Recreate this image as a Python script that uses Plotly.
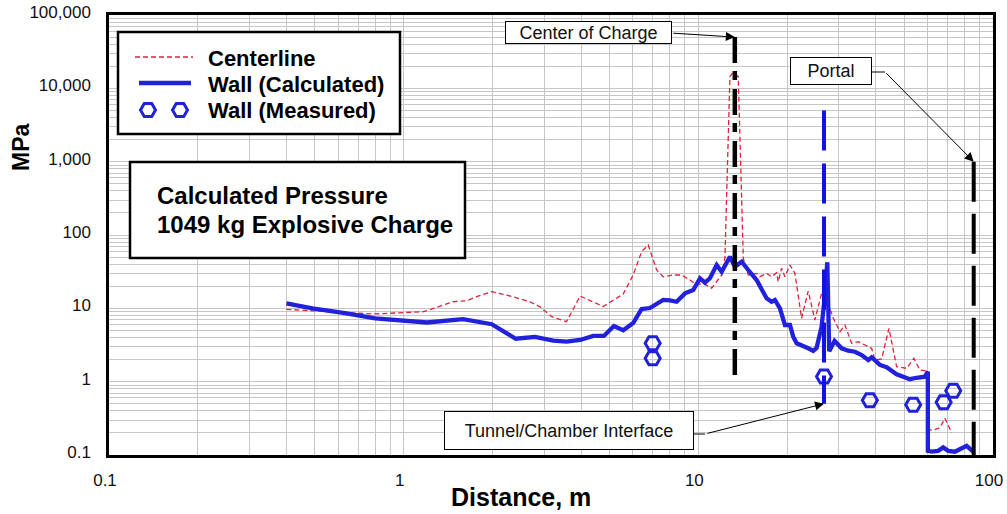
import math
import plotly.graph_objects as go

# ---- data: distance (m) vs pressure (MPa) ----
wall_calc_x = [0.40, 0.49, 0.64, 0.80, 1.20, 1.59, 1.99, 2.40, 2.79, 3.22, 3.57, 3.97, 4.40, 4.78,
               5.17, 5.56, 6.01, 6.42, 6.85, 7.60, 8.01, 8.44, 9.01, 9.61, 10.13, 10.53, 10.95,
               11.54, 12.00, 12.80, 13.31, 14.03, 14.77, 15.77, 17.05, 17.73, 18.20, 18.92, 19.67,
               20.46, 20.99, 21.56, 23.60, 24.54, 25.20, 26.20, 26.68, 27.40, 27.81, 29.00, 30.63,
               32.27, 34.00, 35.83, 37.73, 38.73, 41.33, 43.55, 47.09, 50.23, 52.24, 55.05, 58.74,
               60.10, 60.10, 61.89, 65.16, 67.76, 70.47, 74.25, 78.23, 81.35, 85.66]
wall_calc_y = [11.7, 10.0, 8.56, 7.31, 6.41, 7.11, 6.08, 3.85, 4.07, 3.62, 3.51, 3.70, 4.20, 4.20,
               5.74, 5.02, 6.31, 9.79, 10.1, 13.0, 12.8, 12.3, 16.0, 17.8, 25.7, 22.4, 25.7,
               39.0, 31.6, 50.6, 37.0, 43.3, 33.3, 24.3, 13.7, 12.3, 13.0, 10.0, 5.93,
               5.93, 4.11, 3.34, 2.85, 2.62, 2.90, 5.62, 11.1, 42.5, 2.60, 3.60, 2.85,
               2.64, 2.56, 2.31, 1.97, 2.15, 1.69, 1.57, 1.26, 1.17, 1.08, 1.13, 1.17,
               1.37, 0.114, 0.111, 0.114, 0.127, 0.114, 0.111, 0.123, 0.133, 0.111]

centerline_x = [0.40, 0.49, 0.64, 0.80, 0.90, 1.17, 1.47, 1.64, 1.79, 1.99, 2.35, 2.68, 2.90, 3.18,
                3.57, 3.97, 4.76, 5.56, 6.01, 6.42, 6.76, 7.22, 7.60, 8.22, 8.78, 9.37, 9.87, 10.39,
                11.10, 11.54, 12.00, 12.31, 12.80, 13.07, 13.66, 14.21, 14.77, 15.77, 16.18, 17.05,
                17.73, 18.44, 18.67, 19.17, 19.67, 20.46, 21.27, 22.41, 23.60, 24.86, 26.20, 27.25,
                28.69, 30.23, 31.44, 33.13, 34.88, 36.76, 38.73, 39.74, 41.88, 44.35, 47.09, 50.90,
                53.89, 56.47, 59.66, 60.10, 62.68, 66.04, 68.68, 72.36]
centerline_y = [9.70, 9.20, 8.72, 8.38, 8.56, 9.00, 12.3, 12.7, 14.7, 16.9, 14.4, 12.3, 10.5, 7.69,
                6.57, 14.7, 10.6, 15.7, 28.5, 59.2, 73.1, 33.3, 27.0, 28.5, 28.5, 24.3, 20.8, 21.9,
                18.8, 23.1, 28.5, 48.6, 14400, 16300, 14400, 48.1, 28.5, 30.0, 27.0, 30.0,
                27.0, 30.6, 23.1, 35.2, 27.0, 39.0, 30.0, 7.31, 17.2, 6.93, 16.0, 13.0,
                7.4, 4.80, 5.93, 3.34, 3.51, 3.16, 2.85, 1.97, 2.04, 5.34, 1.60, 1.52,
                2.08, 1.44, 1.40, 0.22, 0.219, 0.236, 0.317, 0.201]

measured_x = [7.0, 7.0, 26.7, 38.2, 53.6, 68.0, 73.3]
measured_y = [3.34, 2.08, 1.18, 0.56, 0.485, 0.525, 0.753]

# reference locations along the tunnel
charge_x, charge_y = [13.3, 13.3], [50000, 1.2]
interface_x, interface_y = [26.7, 26.7], [5000, 0.5]
portal_x, portal_y = [86.0, 86.0], [1000, 0.1]

x_tick_labels = ["0.1", "1", "10", "100"]
y_tick_labels = ["0.1", "1", "10", "100", "1,000", "10,000", "100,000"]

# ---- figure geometry (pixels) ----
W, H = 1007, 514
L, R, T, B = 109, 993, 15, 455
FONT = "Liberation Sans, Arial, sans-serif"
BLUE = "#2121dc"
RED = "#e0203c"


def fx(px):
    return (px - L) / (R - L)


def fy(py):
    return (B - py) / (B - T)


def log_grid(first_exp, last_exp, labels):
    vals, texts = [], []
    for i, e in enumerate(range(first_exp, last_exp)):
        for m in range(1, 10):
            vals.append(m * 10.0 ** e)
            texts.append(labels[i] if m == 1 else "")
    vals.append(10.0 ** last_exp)
    texts.append(labels[-1])
    return vals, texts


xv, xt = log_grid(-1, 2, x_tick_labels)
yv, yt = log_grid(-1, 5, y_tick_labels)

fig = go.Figure()

fig.add_trace(go.Scatter(x=centerline_x, y=centerline_y, mode="lines",
                         line=dict(color=RED, width=1.3, dash="5px,3px"), showlegend=False))
fig.add_trace(go.Scatter(x=wall_calc_x, y=wall_calc_y, mode="lines",
                         line=dict(color=BLUE, width=4.3), showlegend=False))
fig.add_trace(go.Scatter(x=measured_x, y=measured_y, mode="markers",
                         marker=dict(symbol="hexagon2-open", size=15, color=BLUE,
                                     line=dict(width=3, color=BLUE)), showlegend=False))
fig.add_trace(go.Scatter(x=charge_x, y=charge_y, mode="lines",
                         line=dict(color="black", width=4.5, dash="26px,8px,9px,9px"),
                         showlegend=False))
fig.add_trace(go.Scatter(x=interface_x, y=interface_y, mode="lines",
                         line=dict(color="#1212e6", width=4, dash="40px,13px"), showlegend=False))
fig.add_trace(go.Scatter(x=portal_x, y=portal_y, mode="lines",
                         line=dict(color="black", width=4, dash="40px,12px"), showlegend=False))

axis_common = dict(type="log", showgrid=True, gridcolor="#c6c6c6", gridwidth=1,
                   showline=True, linecolor="black", linewidth=2.5, mirror=True,
                   ticks="", zeroline=False, automargin=False,
                   tickfont=dict(family=FONT, size=17, color="#111"))
fig.update_xaxes(range=[-1, 2], tickmode="array", tickvals=xv, ticktext=xt,
                 ticklabelstandoff=8, ticklabelshift=-4, **axis_common)
fig.update_yaxes(range=[-1, 5], tickmode="array", tickvals=yv, ticktext=yt,
                 ticklabelstandoff=12, ticklabelshift=-3, **axis_common)

shapes = []
# legend frame and title frame
shapes.append(dict(type="rect", xref="paper", yref="paper", x0=fx(118), x1=fx(400),
                   y0=fy(134), y1=fy(32), line=dict(color="black", width=2.5),
                   fillcolor="white", layer="above"))
shapes.append(dict(type="rect", xref="paper", yref="paper", x0=fx(130), x1=fx(465),
                   y0=fy(258), y1=fy(162), line=dict(color="black", width=2.5),
                   fillcolor="white", layer="above"))
# legend samples
shapes.append(dict(type="line", xref="paper", yref="paper", x0=fx(135), x1=fx(193),
                   y0=fy(57), y1=fy(57), line=dict(color=RED, width=1.3, dash="5px,3px"),
                   layer="above"))
shapes.append(dict(type="line", xref="paper", yref="paper", x0=fx(139), x1=fx(191),
                   y0=fy(83), y1=fy(83), line=dict(color=BLUE, width=4.5), layer="above"))
for cx in (148, 180):
    cy, r = 110, 7.5
    pts = [(cx + r, cy), (cx + r / 2, cy - r * 0.866), (cx - r / 2, cy - r * 0.866),
           (cx - r, cy), (cx - r / 2, cy + r * 0.866), (cx + r / 2, cy + r * 0.866)]
    path = "M " + " L ".join(f"{fx(px):.5f},{fy(py):.5f}" for px, py in pts) + " Z"
    shapes.append(dict(type="path", xref="paper", yref="paper", path=path,
                       line=dict(color=BLUE, width=3), layer="above"))
# short leader stubs next to callout boxes
shapes.append(dict(type="line", xref="paper", yref="paper", x0=fx(872), x1=fx(885),
                   y0=fy(72), y1=fy(72), line=dict(color="black", width=1), layer="above"))
shapes.append(dict(type="line", xref="paper", yref="paper", x0=fx(694), x1=fx(705),
                   y0=fy(434), y1=fy(434), line=dict(color="black", width=1), layer="above"))

annotations = []


def text(px, py, s, size, bold=False, anchor="left", angle=0):
    annotations.append(dict(xref="paper", yref="paper", x=fx(px), y=fy(py), text=s,
                            showarrow=False, xanchor=anchor, yanchor="middle",
                            textangle=angle,
                            font=dict(family=FONT, size=size, color="black",
                                      weight="bold" if bold else "normal")))


def callout(cx, cy, w, h, s):
    annotations.append(dict(xref="paper", yref="paper", x=fx(cx), y=fy(cy), text=s,
                            showarrow=False, xanchor="center", yanchor="middle",
                            width=w, height=h, borderpad=0, bordercolor="black",
                            borderwidth=1, bgcolor="white",
                            font=dict(family=FONT, size=18, color="#111")))


def arrow(x, y, ax, ay):
    annotations.append(dict(xref="x", yref="y", x=math.log10(x), y=math.log10(y), text="",
                            showarrow=True, ax=ax, ay=ay, arrowhead=2, arrowsize=1.8,
                            arrowwidth=1, arrowcolor="black", standoff=0, startstandoff=0))


text(206, 58, "Centerline", 22, bold=True)
text(206, 84, "Wall (Calculated)", 22, bold=True)
text(206, 110, "Wall (Measured)", 22, bold=True)
text(155, 195, "Calculated Pressure", 24, bold=True)
text(155, 224, "1049 kg Explosive Charge", 24, bold=True)
text(21, 147, "MPa", 23, bold=True, anchor="center", angle=-90)
text(521, 497, "Distance, m", 25, bold=True, anchor="center")

callout(588.5, 32.5, 165, 21, "Center of Charge")
callout(831, 71, 80, 26, "Portal")
callout(569, 430.5, 248, 37, "Tunnel/Chamber Interface")

arrow(charge_x[0], charge_y[0], -63, -4)
arrow(portal_x[0], portal_y[0], -89, -90)
arrow(interface_x[0], interface_y[1], -118, 30)

fig.update_layout(width=W, height=H, margin=dict(l=L, r=W - R, t=T, b=H - B, autoexpand=False),
                  plot_bgcolor="white", paper_bgcolor="white", showlegend=False,
                  shapes=shapes, annotations=annotations,
                  font=dict(family=FONT))

fig.write_html("out.html")
